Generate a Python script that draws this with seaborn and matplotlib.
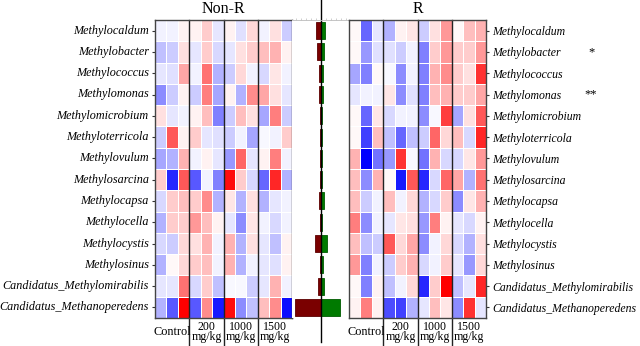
import numpy as np
import pandas as pd
import matplotlib
matplotlib.use("Agg")
import matplotlib.pyplot as plt
import seaborn as sns

genera = ["Methylocaldum", "Methylobacter", "Methylococcus", "Methylomonas",
          "Methylomicrobium", "Methyloterricola", "Methylovulum", "Methylosarcina",
          "Methylocapsa", "Methylocella", "Methylocystis", "Methylosinus",
          "Candidatus_Methylomirabilis", "Candidatus_Methanoperedens"]
groups = ["Control", "200\nmg/kg", "1000\nmg/kg", "1500\nmg/kg"]
samples = [f"S{i+1}" for i in range(12)]

nonr_values = [
    [-0.05, -0.05, 0.05, 0.05, 0.2, -0.1, 0.05, -0.12, 0.15, -0.05, 0.12, -0.2],
    [-0.25, -0.2, 0.12, -0.1, 0.2, -0.15, -0.1, 0.12, 0.2, 0.25, 0.3, 0.05],
    [-0.1, -0.12, 0.35, -0.05, 0.55, -0.3, -0.2, 0.15, -0.05, -0.15, 0.1, -0.05],
    [-0.45, -0.2, 0.05, -0.2, 0.5, -0.35, 0.05, -0.3, 0.45, 0.35, 0.12, -0.1],
    [0.12, -0.1, -0.05, 0.05, 0.25, -0.5, -0.2, 0.25, 0.12, -0.35, 0.5, -0.2],
    [-0.2, 0.65, 0.05, 0.2, -0.1, -0.12, -0.2, -0.05, -0.35, -0.03, -0.05, 0.2],
    [-0.35, -0.3, 0.3, -0.05, 0.05, -0.1, -0.4, 0.6, -0.1, 0.05, 0.5, -0.05],
    [0.2, -0.85, 0.65, -0.65, -0.05, -0.5, 0.95, 0.2, -0.15, -0.6, 0.85, -0.3],
    [-0.15, 0.2, 0.25, 0.2, 0.45, -0.3, 0.1, -0.3, 0.12, -0.3, -0.1, -0.05],
    [-0.3, 0.2, 0.2, 0.4, 0.25, 0.05, -0.1, -0.45, 0.1, -0.05, -0.15, -0.05],
    [-0.15, -0.2, 0.15, 0.12, 0.3, -0.05, 0.3, -0.3, 0.12, -0.1, -0.25, 0.05],
    [-0.3, 0.03, 0.15, 0.2, 0.25, -0.05, 0.3, -0.3, -0.05, -0.1, -0.12, 0.05],
    [-0.1, -0.1, 0.55, -0.15, 0.2, -0.25, -0.03, -0.03, -0.2, -0.1, 0.3, -0.05],
    [-0.3, -0.65, 1.0, -0.65, 0.45, -0.9, 0.95, -0.45, -0.25, 0.25, 0.45, -0.95],
]

r_values = [
    [0.03, -0.6, -0.1, -0.3, 0.05, 0.1, -0.2, 0.12, 0.4, 0.03, 0.25, 0.3],
    [0.03, -0.4, -0.12, -0.12, -0.2, -0.05, -0.5, 0.2, 0.4, 0.2, 0.2, 0.4],
    [-0.35, -0.5, 0.03, -0.03, -0.45, -0.05, -0.5, 0.3, 0.45, 0.2, 0.12, 0.8],
    [-0.1, -0.05, -0.05, 0.1, -0.45, -0.12, -0.5, 0.25, 0.3, 0.2, 0.2, 0.35],
    [0.03, -0.6, 0.1, -0.15, -0.05, -0.05, -0.45, -0.03, 0.75, -0.35, 0.12, 0.65],
    [0.03, -0.75, 0.25, -0.25, -0.6, -0.25, -0.2, 0.6, 0.15, 0.25, -0.15, 0.85],
    [0.3, -1.0, -0.55, -0.4, 0.8, -0.03, -0.55, 0.3, -0.15, -0.15, 0.1, 0.4],
    [0.25, -0.45, 0.3, 0.03, -0.9, 0.65, -0.85, -0.15, 0.6, 0.35, -0.3, 0.55],
    [0.25, -0.2, -0.05, 0.25, -0.05, 0.15, -0.3, -0.15, 0.2, -0.45, 0.1, 0.3],
    [0.5, -0.45, -0.05, -0.1, 0.1, 0.12, -0.4, 0.5, 0.05, -0.1, -0.15, 0.05],
    [0.25, -0.25, -0.2, 0.65, 0.15, 0.35, -0.45, -0.05, 0.15, -0.15, -0.3, 0.12],
    [0.4, -0.5, -0.05, -0.2, 0.2, 0.3, -0.15, -0.05, 0.2, -0.1, -0.4, 0.15],
    [0.03, -0.5, 0.05, -0.25, -0.05, 0.15, -0.85, 0.2, 1.0, -0.25, -0.1, 0.85],
    [0.05, 0.5, 0.05, -0.7, -0.75, -0.3, -0.1, 0.25, 0.1, -0.45, 0.8, -0.1],
]

nonr_bar = [5.0, 3.4, 2.0, 1.7, 0.5, 0.3, 0.3, 0.3, 2.0, 0.5, 5.4, 1.0, 3.0, 25.4]
r_bar = [4.6, 3.6, 2.6, 2.3, 1.7, 1.3, 1.0, 1.0, 3.0, 1.7, 6.0, 2.6, 3.3, 19.3]

significance = {"Methylobacter": "*", "Methylomonas": "**"}

plt.rcParams["font.family"] = ["Liberation Serif", "DejaVu Serif"]

W, H = 640, 346
fig = plt.figure(figsize=(W / 100, H / 100), dpi=100)

def fx(px):
    return px / W

def fy(py):
    return 1 - py / H

top_px, bot_px = 20, 318
bottom = fy(bot_px)
height = (bot_px - top_px) / H
ax_l = fig.add_axes([fx(155), bottom, fx(292) - fx(155), height])
ax_b = fig.add_axes([fx(292), bottom, fx(349) - fx(292), height])
ax_r = fig.add_axes([fx(349), bottom, fx(486) - fx(349), height])

df_l = pd.DataFrame(nonr_values, index=genera, columns=samples)
df_r = pd.DataFrame(r_values, index=genera, columns=samples)

row_px = (bot_px - top_px) / len(genera)
ext = (H - bot_px) / row_px + 14

for ax, df, title in [(ax_l, df_l, "Non-R"), (ax_r, df_r, "R")]:
    sns.heatmap(df, ax=ax, cmap="bwr", vmin=-1, vmax=1, cbar=False,
                linewidths=0.6, linecolor="white")
    for s in ax.spines.values():
        s.set_visible(True)
        s.set_color("#444444")
        s.set_linewidth(1.0)
    for xv in (3, 6, 9):
        ax.plot([xv, xv], [0, ext], color="#222222", lw=1.0, clip_on=False)
    ax.set_xticks([])
    ax.set_xlabel("")
    ax.set_ylabel("")
    ax.set_title(title, fontsize=11.5, pad=5)
    for i, g in enumerate(groups):
        if "\n" in g:
            ax.text(3 * i + 1.5, 14.12, g, ha="center", va="top", fontsize=8.6,
                    linespacing=0.85, clip_on=False)
        else:
            ax.text(3 * i + 1.5, 14.68, g, ha="center", va="center", fontsize=8.8,
                    clip_on=False)

ax_l.set_yticks(np.arange(len(genera)) + 0.5)
ax_l.set_yticklabels(genera, rotation=0, fontstyle="italic", fontsize=8.7)
ax_l.tick_params(axis="y", length=2.5, width=0.8, pad=2, color="#333333")

ax_r.set_yticks(np.arange(len(genera)) + 0.5)
ax_r.yaxis.tick_right()
ax_r.set_yticklabels(genera, rotation=0, fontstyle="italic", fontsize=8.5)
ax_r.tick_params(axis="y", length=2.5, width=0.8, pad=2, color="#333333")

for g, mark in significance.items():
    i = genera.index(g)
    ax_r.text(21.2, i + 0.5, mark, ha="center", va="center", fontsize=9,
              clip_on=False)

ypos = np.arange(len(genera)) + 0.5
ax_b.barh(ypos, [-v for v in nonr_bar], height=0.8, color="#7a0000",
          edgecolor="#5a0000", linewidth=0.6)
ax_b.barh(ypos, r_bar, height=0.8, color="#007a00",
          edgecolor="#005a00", linewidth=0.6)
ax_b.set_ylim(14, 0)
ax_b.set_xlim(-28.5, 28.5)
ax_b.set_yticks([])
for k, s in ax_b.spines.items():
    s.set_visible(k == "top")
ax_b.spines["top"].set_color("#bbbbbb")
ax_b.spines["top"].set_linewidth(0.6)
ax_b.xaxis.tick_top()
ax_b.set_xticks(np.arange(-25, 26, 5))
ax_b.tick_params(axis="x", length=1.5, width=0.5, color="#bbbbbb", labeltop=False,
                 labelbottom=False)
ax_b.plot([0, 0], [(bot_px - 342) / (bot_px - top_px), bot_px / (bot_px - top_px)],
          transform=ax_b.get_xaxis_transform(), color="black", lw=1.0, clip_on=False)

fig.savefig("out.png", dpi=100)
